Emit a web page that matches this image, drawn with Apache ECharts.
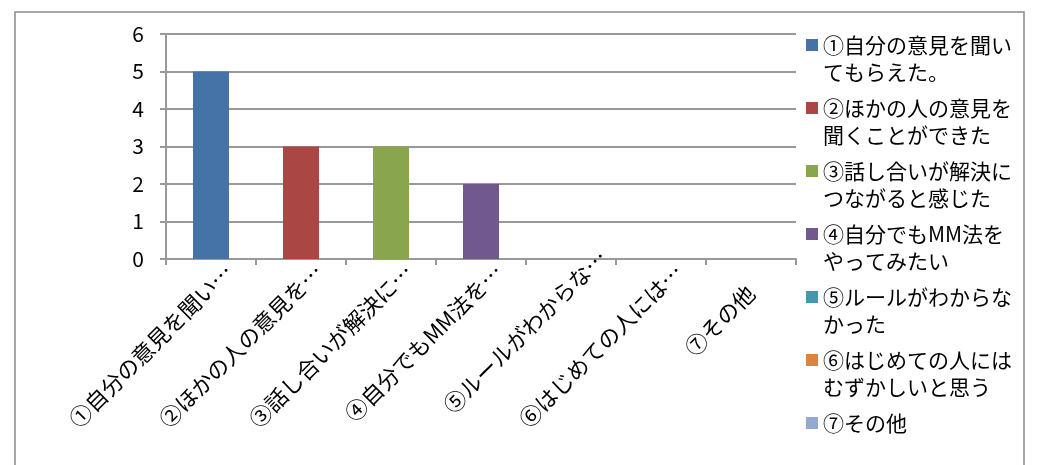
<!DOCTYPE html>
<html>
<head>
<meta charset="utf-8">
<script src="https://cdn.jsdelivr.net/npm/echarts@6/dist/echarts.min.js"></script>
<style>
html,body{margin:0;padding:0;background:#fff;}
#chart{width:1038px;height:465px;}
</style>
</head>
<body>
<div id="chart"></div>
<script>
const categories = ["①自分の意見を聞い…", "②ほかの人の意見を…", "③話し合いが解決に…", "④自分でもMM法を…", "⑤ルールがわからな…", "⑥はじめての人には…", "⑦その他"];
const seriesNames = ["①自分の意見を聞いてもらえた。", "②ほかの人の意見を聞くことができた", "③話し合いが解決につながると感じた", "④自分でもMM法をやってみたい", "⑤ルールがわからなかった", "⑥はじめての人にはむずかしいと思う", "⑦その他"];
const values = [5, 3, 3, 2, 0, 0, 0];
const colors = ["#4572A7", "#AA4643", "#89A54E", "#71588F", "#4198AF", "#DB843D", "#93A9CF"];
const yTicks = [0, 1, 2, 3, 4, 5, 6];

const FONT = '"Noto Sans CJK JP", "Noto Sans", sans-serif';
const gridColor = '#999999';

const chart = echarts.init(document.getElementById('chart'), null, {renderer: 'canvas'});

const series = seriesNames.map((name, i) => ({
  name: name,
  type: 'bar',
  stack: 'all',
  barWidth: 36,
  itemStyle: {color: colors[i]},
  data: categories.map((c, j) => (j === i ? values[i] : '-'))
}));

// per-label placement tweaks (Excel places its rotated labels slightly differently)
const labelPad = {4: [14, -20, 0, 0], 6: [17, 28, 0, 0]};
const xData = categories.map((c, i) => labelPad[i]
  ? {value: c, textStyle: {padding: labelPad[i], verticalAlign: 'top', align: 'right', lineHeight: 22, fontSize: 22}}
  : c);

chart.setOption({
  animation: false,
  color: colors,
  textStyle: {fontFamily: FONT},
  graphic: [{
    type: 'rect',
    shape: {x: 15, y: 12, width: 1009, height: 470},
    style: {fill: 'none', stroke: '#8a8a8a', lineWidth: 1.5},
    silent: true
  }],
  grid: {left: 166, top: 34, width: 630, height: 225, containLabel: false},
  legend: {
    orient: 'vertical',
    left: 806,
    top: 4.5,
    padding: 0,
    itemWidth: 12,
    itemHeight: 12,
    itemGap: -18,
    icon: 'rect',
    data: seriesNames,
    formatter: (name) => name.length > 9
      ? ' \n' + name.slice(0, 9) + '\n' + name.slice(9)
      : ' \n' + name + '\n ',
    textStyle: {fontFamily: FONT, fontSize: 21, lineHeight: 27, color: '#000'}
  },
  xAxis: {
    type: 'category',
    data: xData,
    boundaryGap: true,
    axisLine: {show: true, lineStyle: {color: gridColor, width: 2}},
    axisTick: {show: true, length: 6, alignWithLabel: false, lineStyle: {color: gridColor, width: 2}},
    axisLabel: {
      interval: 0, rotate: 45, margin: -9, fontSize: 22, lineHeight: 22,
      verticalAlign: 'top', align: 'right', padding: [14, 0, 0, 0],
      color: '#000', fontFamily: FONT
    }
  },
  yAxis: {
    type: 'value',
    min: yTicks[0],
    max: yTicks[yTicks.length - 1],
    interval: 1,
    axisLine: {show: true, lineStyle: {color: gridColor, width: 2}},
    axisTick: {show: true, length: 6, lineStyle: {color: gridColor, width: 2}},
    splitLine: {show: true, lineStyle: {color: gridColor, width: 2}},
    axisLabel: {margin: 22, fontSize: 21, color: '#000', fontFamily: FONT}
  },
  series: series
});
</script>
</body>
</html>
